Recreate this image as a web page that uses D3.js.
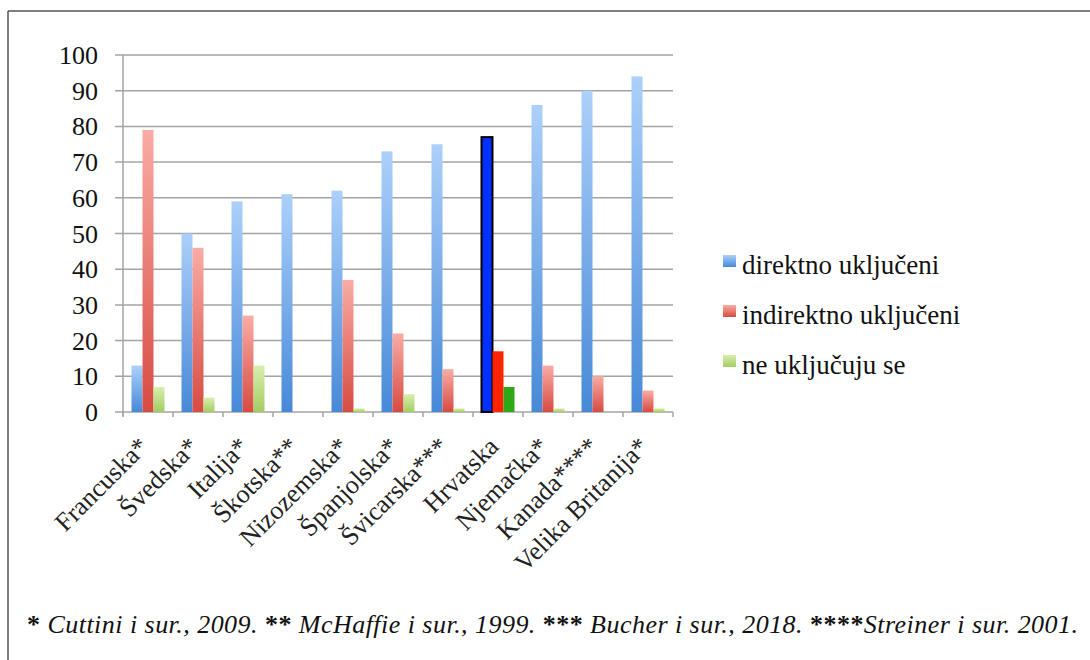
<!DOCTYPE html>
<html>
<head>
<meta charset="utf-8">
<script src="https://cdn.jsdelivr.net/npm/d3@7"></script>
<style>
  body { margin: 0; background: #fff; }
</style>
</head>
<body>
<div id="chart"></div>
<script>
// Data
const countries = ['Francuska*', 'Švedska*', 'Italija*', 'Škotska**', 'Nizozemska*', 'Španjolska*',
                   'Švicarska***', 'Hrvatska', 'Njemačka*', 'Kanada****', 'Velika Britanija*'];
const direktno = [13, 50, 59, 61, 62, 73, 75, 77, 86, 90, 94];
const indirektno = [79, 46, 27, 0, 37, 22, 12, 17, 13, 10, 6];
const neUkljucuju = [7, 4, 13, 0, 1, 5, 1, 7, 1, 0, 1];
const seriesNames = ['direktno uključeni', 'indirektno uključeni', 'ne uključuju se'];
const yTicks = [0, 10, 20, 30, 40, 50, 60, 70, 80, 90, 100];
const highlight = 'Hrvatska';

const W = 1090, H = 660;
const serif = "'Liberation Serif', 'DejaVu Serif', 'Times New Roman', serif";
const svg = d3.select('#chart').append('svg')
    .attr('width', W).attr('height', H)
    .attr('font-family', serif);

// gradients for normal bars (light top, darker bottom)
const defs = svg.append('defs');
const grads = [
    { id: 'g0', top: '#acd0fa', bottom: '#4789d8' },
    { id: 'g1', top: '#f9aca5', bottom: '#d74b42' },
    { id: 'g2', top: '#d9eeae', bottom: '#a3cd62' }
];
grads.forEach(g => {
    const lg = defs.append('linearGradient').attr('id', g.id)
        .attr('x1', 0).attr('y1', 0).attr('x2', 0).attr('y2', 1);
    lg.append('stop').attr('offset', '0%').attr('stop-color', g.top);
    lg.append('stop').attr('offset', '100%').attr('stop-color', g.bottom);
});
const hlColors = ['#0030ff', '#ff2400', '#2ea816'];

// frame (top and left edges)
svg.append('line').attr('x1', 8).attr('x2', W).attr('y1', 11).attr('y2', 11)
    .attr('stroke', '#555').attr('stroke-width', 1.5);
svg.append('line').attr('x1', 8).attr('x2', 8).attr('y1', 11).attr('y2', H)
    .attr('stroke', '#555').attr('stroke-width', 1.5);

// scales
const x0 = d3.scaleBand().domain(countries).range([123, 673])
    .paddingInner(0.34).paddingOuter(0.17);
const x1 = d3.scaleBand().domain([0, 1, 2]).range([0, x0.bandwidth()]);
const y = d3.scaleLinear().domain([0, 100]).range([412, 55]);
const step = x0.step();

// grid
svg.append('g').selectAll('line').data(yTicks).join('line')
    .attr('x1', 115).attr('x2', 673)
    .attr('y1', d => y(d)).attr('y2', d => y(d))
    .attr('stroke', '#a4a4a4').attr('stroke-width', 1.5);

// y axis line
svg.append('line').attr('x1', 123).attr('x2', 123).attr('y1', y(100)).attr('y2', y(0) + 4)
    .attr('stroke', '#a4a4a4').attr('stroke-width', 1.5);

// y tick labels
svg.append('g').selectAll('text').data(yTicks).join('text')
    .attr('x', 98).attr('y', d => y(d) + 9)
    .attr('text-anchor', 'end')
    .attr('fill', '#111')
    .style('font-size', '26px')
    .text(d => d);

// x ticks at band boundaries
const boundaries = countries.map(c => x0(c) - step * 0.17).concat([x0(countries[countries.length - 1]) + x0.bandwidth() + step * 0.17]);
svg.append('g').selectAll('line').data(boundaries).join('line')
    .attr('x1', d => d).attr('x2', d => d)
    .attr('y1', y(0)).attr('y2', y(0) + 5)
    .attr('stroke', '#a4a4a4').attr('stroke-width', 1.5);

// bars
const allSeries = [direktno, indirektno, neUkljucuju];
countries.forEach((c, i) => {
    allSeries.forEach((vals, s) => {
        const v = vals[i];
        if (v <= 0) return;
        const isHl = c === highlight;
        const r = svg.append('rect')
            .attr('x', x0(c) + x1(s))
            .attr('y', y(v))
            .attr('width', x1.bandwidth())
            .attr('height', y(0) - y(v))
            .attr('fill', isHl ? hlColors[s] : `url(#g${s})`);
        if (isHl && s === 0) {
            r.attr('stroke', '#000').attr('stroke-width', 2);
        }
    });
});

// category labels
svg.append('g').selectAll('text').data(countries).join('text')
    .attr('transform', d => `translate(${x0(d) + x0.bandwidth() / 2 + 2},${y(0) + 36}) rotate(-45)`)
    .attr('text-anchor', 'end')
    .attr('fill', '#222')
    .style('font-size', '26px')
    .text(d => d);

// legend
const legend = svg.append('g');
seriesNames.forEach((name, i) => {
    const ly = 255 + i * 50;
    legend.append('rect')
        .attr('x', 723).attr('y', ly).attr('width', 13).attr('height', 12)
        .attr('fill', `url(#g${i})`);
    legend.append('text')
        .attr('x', 742).attr('y', ly + 19)
        .attr('fill', '#111')
        .style('font-size', '27px')
        .text(name);
});

// footnote
const notes = [
    ['* ', 'Cuttini i sur., 2009. '],
    ['** ', 'McHaffie i sur., 1999. '],
    ['*** ', 'Bucher i sur., 2018. '],
    ['****', 'Streiner i sur. 2001.']
];
const foot = svg.append('text').attr('x', 27).attr('y', 633)
    .attr('fill', '#111').style('font-size', '26px')
    .attr('textLength', 1051).attr('lengthAdjust', 'spacing');
notes.forEach(n => {
    foot.append('tspan').style('font-weight', 'bold').text(n[0]);
    foot.append('tspan').style('font-style', 'italic').text(n[1]);
});
</script>
</body>
</html>
